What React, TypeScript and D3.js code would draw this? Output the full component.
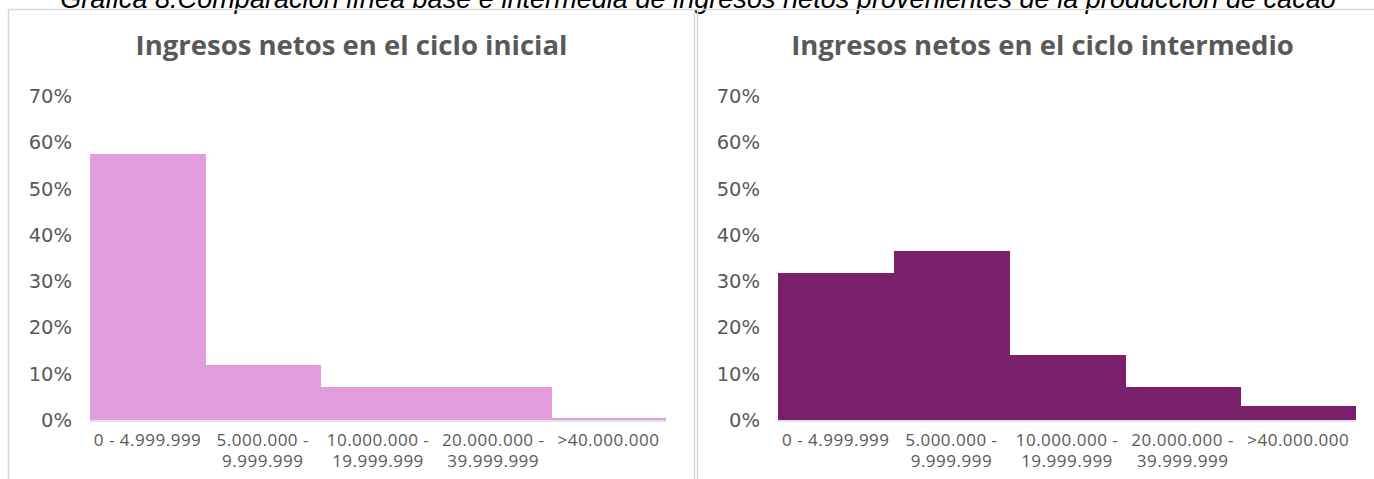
import React from "react";
import * as d3 from "d3";

const categories = ["0 - 4.999.999", "5.000.000 - 9.999.999", "10.000.000 - 19.999.999", "20.000.000 - 39.999.999", ">40.000.000"];
const categoryLines = [["0 - 4.999.999"], ["5.000.000 -", "9.999.999"], ["10.000.000 -", "19.999.999"], ["20.000.000 -", "39.999.999"], [">40.000.000"]];
const initialValues = [0.574, 0.119, 0.071, 0.071, 0.004];
const intermediateValues = [0.317, 0.365, 0.140, 0.071, 0.030];
const yTicks = [0, 0.1, 0.2, 0.3, 0.4, 0.5, 0.6, 0.7];
const captionText = "Gráfica 8.Comparación línea base e intermedia de ingresos netos provenientes de la producción de cacao";
const titles = ["Ingresos netos en el ciclo inicial", "Ingresos netos en el ciclo intermedio"];

const W = 1374;
const H = 479;

type PanelProps = {
  x0: number;
  x1: number;
  labelX: number;
  plotX0: number;
  plotX1: number;
  title: string;
  values: number[];
  color: string;
};

function Panel({ x0, x1, labelX, plotX0, plotX1, title, values, color }: PanelProps) {
  const y = d3.scaleLinear().domain([0, 0.7]).range([420, 96]);
  const x = d3.scaleBand<string>().domain(categories).range([plotX0, plotX1]).padding(0);
  const fmt = d3.format(".0%");
  return (
    <g>
      <text x={(x0 + x1) / 2} y={55} textAnchor="middle" fontFamily="Open Sans" fontWeight={700} fontSize={27.5} fill="#595959">
        {title}
      </text>
      {yTicks.map((t) => (
        <text key={t} x={labelX} y={y(t)} dy="0.36em" textAnchor="end" fontFamily="DejaVu Sans" fontSize={19.5} fill="#595959">
          {fmt(t)}
        </text>
      ))}
      <g shapeRendering="crispEdges">
        {values.map((v, i) => (
          <rect
            key={i}
            x={x(categories[i])!}
            y={y(v)}
            width={x.bandwidth() + (i < values.length - 1 ? 1 : 0)}
            height={y(0) - y(v)}
            fill={color}
          />
        ))}
      </g>
      <line x1={plotX0} x2={plotX1} y1={y(0) + 1} y2={y(0) + 1} stroke="#d9d9d9" strokeWidth={1.5} />
      {categories.map((c, i) => (
        <text key={c} x={x(c)! + x.bandwidth() / 2} y={446} textAnchor="middle" fontFamily="Open Sans" fontSize={17} letterSpacing={0.5} fill="#595959">
          {categoryLines[i].map((ln, j) => (
            <tspan key={j} x={x(c)! + x.bandwidth() / 2} dy={j === 0 ? 0 : 21}>
              {ln}
            </tspan>
          ))}
        </text>
      ))}
    </g>
  );
}

export default function App() {
  return (
    <svg width={W} height={H} style={{ position: "absolute", left: 0, top: 0, background: "#fff" }}>
      <rect x={0} y={0} width={W} height={H} fill="#fff" />
      <text x={698} y={8} textAnchor="middle" fontFamily="Liberation Sans" fontStyle="italic" fontSize={27.1} fill="#000">
        {captionText}
      </text>
      <rect x={8.5} y={9.5} width={686} height={480} fill="none" stroke="#d9d9d9" strokeWidth={1.5} />
      <rect x={697.5} y={9.5} width={690} height={480} fill="none" stroke="#d9d9d9" strokeWidth={1.5} />
      <Panel x0={8} x1={695} labelX={72} plotX0={90} plotX1={666} title={titles[0]} values={initialValues} color="#E39CDC" />
      <Panel x0={697} x1={1388} labelX={760} plotX0={778} plotX1={1356} title={titles[1]} values={intermediateValues} color="#791F6B" />
    </svg>
  );
}
